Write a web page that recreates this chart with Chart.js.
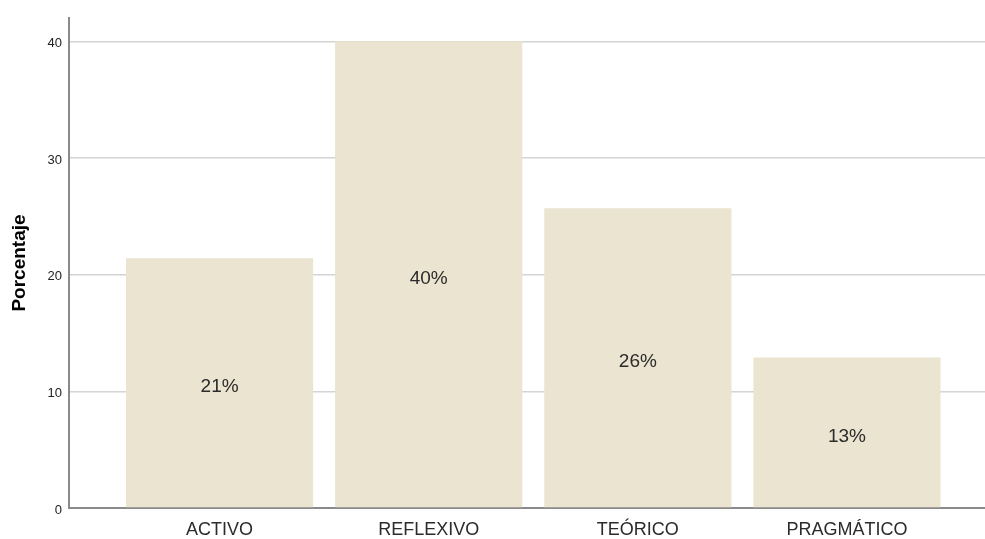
<!DOCTYPE html>
<html>
<head>
<meta charset="utf-8">
<script src="https://cdn.jsdelivr.net/npm/chart.js@4/dist/chart.umd.min.js"></script>
<style>
  html, body { margin: 0; padding: 0; background: #fff; }
  #wrap { width: 985px; height: 539px; position: relative; }
</style>
</head>
<body>
<div id="wrap"><canvas id="barChart"></canvas></div>
<script>
// === Datos ===
const categorias = ['ACTIVO', 'REFLEXIVO', 'TEÓRICO', 'PRAGMÁTICO'];
const porcentajes = [21.4, 40.0, 25.7, 12.9];
const etiquetas = ['21%', '40%', '26%', '13%'];
const ticksY = [0, 10, 20, 30, 40];

const fuente = 'Arial, "Liberation Sans", sans-serif';

// Etiquetas dentro de las barras
const etiquetasPlugin = {
  id: 'etiquetas',
  afterDatasetsDraw(chart) {
    const ctx = chart.ctx;
    const meta = chart.getDatasetMeta(0);
    ctx.save();
    ctx.font = '19px ' + fuente;
    ctx.fillStyle = '#2b2b2b';
    ctx.textAlign = 'center';
    ctx.textBaseline = 'middle';
    meta.data.forEach((bar, i) => {
      const mid = (bar.y + bar.base) / 2;
      ctx.fillText(etiquetas[i], bar.x, mid + 4);
    });
    ctx.restore();
  }
};

new Chart(document.getElementById('barChart'), {
  type: 'bar',
  data: {
    datasets: [{
      label: 'Porcentaje',
      data: categorias.map((c, i) => ({ x: i, y: porcentajes[i] })),
      backgroundColor: '#EAE4D0',
      borderWidth: 0,
      barPercentage: 0.895,
      categoryPercentage: 1
    }]
  },
  options: {
    responsive: true,
    maintainAspectRatio: false,
    animation: false,
    layout: { padding: { top: 18, right: 0, bottom: 0, left: 0 } },
    plugins: {
      legend: { display: false },
      tooltip: { enabled: false }
    },
    scales: {
      x: {
        type: 'linear',
        offset: false,
        min: -0.72,
        max: 3.66,
        grid: { display: false },
        border: { color: '#8a8a8a', width: 2 },
        ticks: {
          stepSize: 1,
          includeBounds: false,
          autoSkip: false,
          maxRotation: 0,
          padding: 3,
          color: '#2b2b2b',
          font: { family: fuente, size: 18 },
          callback: (v) => (Number.isInteger(v) && categorias[v] !== undefined) ? categorias[v] : ''
        },
        afterFit: (scale) => { scale.height = 31; }
      },
      y: {
        min: 0,
        max: 42,
        grid: { color: '#d4d4d4', lineWidth: 1.5, drawTicks: false },
        border: { color: '#8a8a8a', width: 2 },
        title: {
          display: true,
          text: 'Porcentaje',
          color: '#000',
          padding: { top: 8, bottom: 0 },
          font: { family: fuente, size: 19, weight: 'bold' }
        },
        ticks: {
          stepSize: 10,
          includeBounds: false,
          padding: 7,
          labelOffset: 2,
          color: '#222',
          font: { family: fuente, size: 13 },
          callback: (v) => ticksY.includes(v) ? v : ''
        },
        afterFit: (scale) => { scale.width = 69; }
      }
    }
  },
  plugins: [etiquetasPlugin]
});
</script>
</body>
</html>
